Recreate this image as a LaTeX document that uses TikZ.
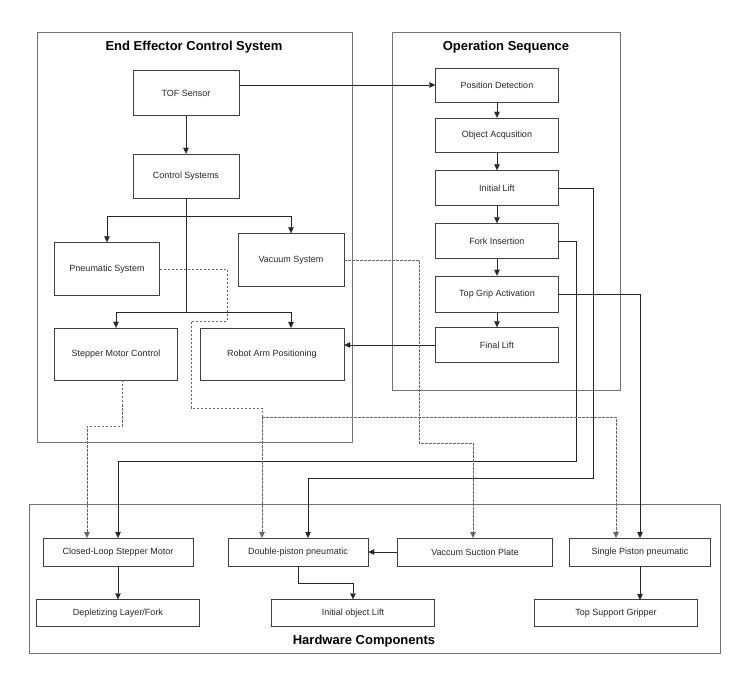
\documentclass[tikz,border=0pt]{standalone}
\usepackage{fontspec}
\setmainfont{Liberation Sans}
\usetikzlibrary{arrows.meta}

\begin{document}
\begin{tikzpicture}[
		x=1pt, y=-1pt,
		box/.style={draw=black!75, minimum height=#1, inner sep=1pt, font=\fontsize{9}{11}\selectfont, text=black!85},
		box/.default=34,
		frame/.style={draw=black!55},
		title/.style={font=\bfseries\fontsize{13}{15}\selectfont},
		link/.style={draw=black!85, -{Triangle[length=6pt,width=5.5pt]}},
		dlink/.style={draw=black!60, dashed, dash pattern=on 2.5pt off 1.5pt, -{Triangle[length=6pt,width=5.5pt]}},
		dline/.style={draw=black!60, dashed, dash pattern=on 2.5pt off 1.5pt}]

		\useasboundingbox (0,0) rectangle (734,676);

		% frames
		\draw[frame] (37,32) rectangle (352,442);
		\draw[frame] (392,32) rectangle (620,390);
		\draw[frame] (29,504) rectangle (720,653);
		\node[title] (ttlL) at (194,47) {End Effector Control System};
		\node[title] (ttlR) at (506,47) {Operation Sequence};
		\node[title] (ttlB) at (364,641) {Hardware Components};

		% control system
		\node[box=45, minimum width=106] (tof) at (186,93) {TOF Sensor};
		\node[box=44, minimum width=106] (ctrl) at (186,176) {Control Systems};
		\node[box=53, minimum width=105] (pneu) at (107,269) {Pneumatic System};
		\node[box=53, minimum width=106] (vac) at (291,260) {Vacuum System};
		\node[box=52, minimum width=123] (step) at (116,354) {Stepper Motor Control};
		\node[box=52, minimum width=144] (arm) at (272,354) {Robot Arm Positioning};

		% operation sequence
		\node[box=34, minimum width=123] (pos) at (497,85) {Position Detection};
		\node[box=34, minimum width=123] (acq) at (497,135) {Object Acqusition};
		\node[box=35, minimum width=123] (ilift) at (497,188) {Initial Lift};
		\node[box=35, minimum width=123] (fork) at (497,241) {Fork Insertion};
		\node[box=36, minimum width=123] (grip) at (497,294) {Top Grip Activation};
		\node[box=35, minimum width=123] (flift) at (497,345) {Final Lift};

		% hardware
		\node[box=28, minimum width=150] (clsm) at (118,552) {Closed-Loop Stepper Motor};
		\node[box=28, minimum width=140] (dpp) at (298,552) {Double-piston pneumatic};
		\node[box=28, minimum width=155] (vsp) at (475,552) {Vaccum Suction Plate};
		\node[box=28, minimum width=141] (spp) at (640,552) {Single Piston pneumatic};
		\node[box=27, minimum width=163] (dlf) at (118,613) {Depletizing Layer/Fork};
		\node[box=27, minimum width=163] (iol) at (353,613) {Initial object Lift};
		\node[box=27, minimum width=163] (tsg) at (616,613) {Top Support Gripper};

		% solid links
		\draw[link] (tof) -- (ctrl);
		\draw[link] (tof.east |- pos.west) -- (pos.west);
		\draw[link] (pos) -- (acq);
		\draw[link] (acq) -- (ilift);
		\draw[link] (ilift) -- (fork);
		\draw[link] (fork) -- (grip);
		\draw[link] (grip) -- (flift);
		\draw[link] (ctrl.south) -- (186,216) -| (pneu.north);
		\draw[link] (186,216) -| (vac.north);
		\draw[link] (186,216) -- (186,312) -| (step.north);
		\draw[link] (186,312) -| (291,328);
		\draw[link] (flift.west) -- (arm.east |- flift.west);
		\draw[link] (ilift.east) -| (593,478) -| (308,538);
		\draw[link] (fork.east) -| (576,461) -| (118,538);
		\draw[link] (grip.east) -| (640,538);
		\draw[link] (vsp) -- (dpp);
		\draw[link] (clsm) -- (dlf);
		\draw[link] (dpp.south) -- (298,583) -| (iol.north);
		\draw[link] (spp) -- (640,600);

		% dashed links
		\draw[dline] (pneu.east) -| (227,321) -| (191,408) -| (262,417);
		\draw[dlink] (262,417) -- (262,538);
		\draw[dlink] (262,417) -| (616,538);
		\draw[dlink] (vac.east) -| (419,443) -| (473,538);
		\draw[dlink] (122,380) -- (122,426) -| (87,538);

\end{tikzpicture}
\end{document}
